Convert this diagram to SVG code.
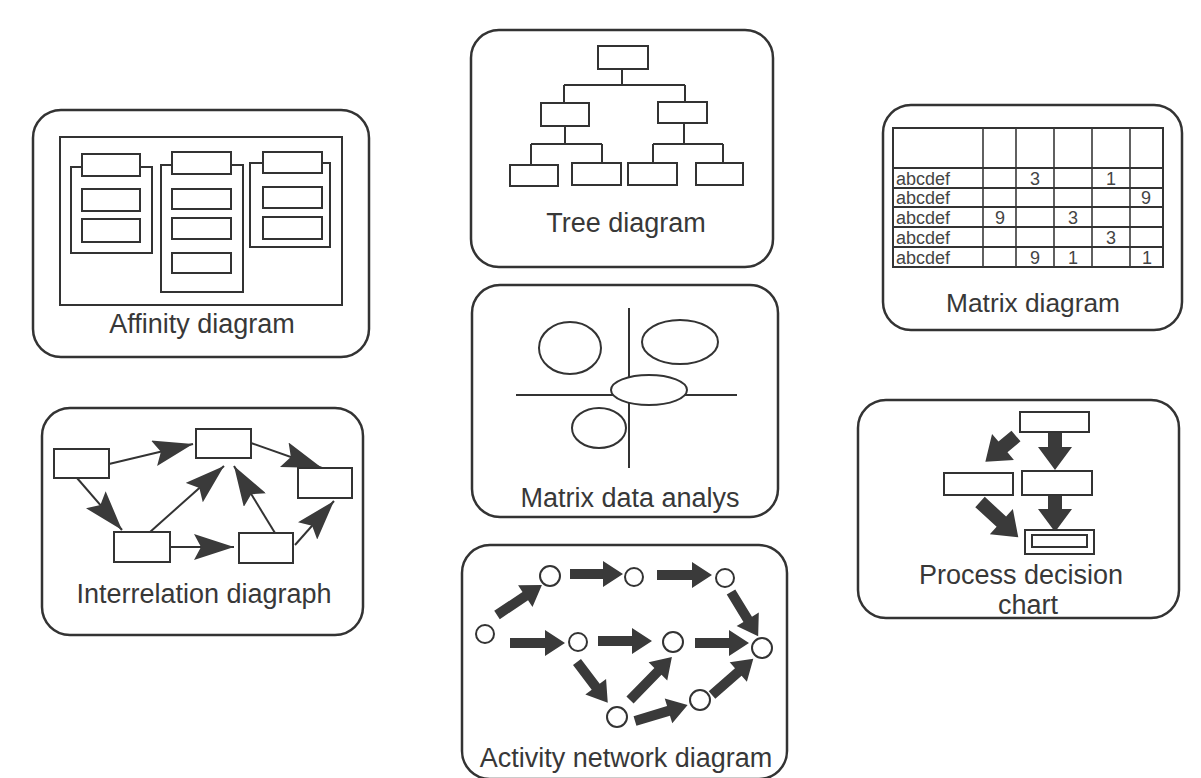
<svg xmlns="http://www.w3.org/2000/svg" width="1201" height="778" viewBox="0 0 1201 778">
  <style>
    .panel { fill: none; stroke: #333; stroke-width: 2.5; }
    .box { fill: #fff; stroke: #333; stroke-width: 2; }
    .ln { fill: none; stroke: #333; stroke-width: 2; }
    .thin { fill: none; stroke: #3a3a3a; stroke-width: 1.6; }
    .blk { fill: #3a3a3a; stroke: none; }
    .node { fill: #fff; stroke: #333; stroke-width: 2; }
    .lbl { font-family: "Liberation Sans", Arial, sans-serif; font-size: 27px; fill: #383838; text-anchor: middle; }
    .cell { font-family: "Liberation Sans", Arial, sans-serif; font-size: 18px; fill: #444; }
    .num { font-family: "Liberation Sans", Arial, sans-serif; font-size: 18px; fill: #444; text-anchor: middle; }
  </style>
  <defs>
    <marker id="head" viewBox="0 0 40 26" refX="40" refY="13" markerWidth="40" markerHeight="26" markerUnits="userSpaceOnUse" orient="auto">
      <path d="M0,0 L40,13 L0,26 L7,13 Z" fill="#3a3a3a"/>
    </marker>
  </defs>
  <rect width="1201" height="778" fill="#fff"/>

  <!-- Affinity diagram -->
  <g id="affinity">
    <rect class="panel" x="33" y="110" width="336" height="247" rx="28"/>
    <rect class="ln" x="60" y="137" width="282" height="168"/>
    <rect class="ln" x="71" y="167" width="81" height="86"/>
    <rect class="box" x="82" y="154" width="58" height="22"/>
    <rect class="box" x="82" y="189" width="58" height="22"/>
    <rect class="box" x="82" y="219" width="58" height="23"/>
    <rect class="ln" x="161" y="165" width="82" height="127"/>
    <rect class="box" x="172" y="152" width="59" height="22"/>
    <rect class="box" x="172" y="189" width="59" height="20"/>
    <rect class="box" x="172" y="218" width="59" height="21"/>
    <rect class="box" x="172" y="253" width="59" height="20"/>
    <rect class="ln" x="250" y="163" width="80" height="84"/>
    <rect class="box" x="263" y="152" width="59" height="21"/>
    <rect class="box" x="263" y="187" width="59" height="21"/>
    <rect class="box" x="263" y="217" width="59" height="22"/>
    <text class="lbl" x="202" y="333">Affinity diagram</text>
  </g>

  <!-- Interrelation diagraph -->
  <g id="interrelation">
    <rect class="panel" x="42" y="408" width="321" height="227" rx="28"/>
    <g id="ir-connectors">
      <line class="ln" x1="109" y1="464" x2="193" y2="444" marker-end="url(#head)"/>
      <line class="ln" x1="77" y1="478" x2="122" y2="530" marker-end="url(#head)"/>
      <line class="ln" x1="150" y1="532" x2="224" y2="466" marker-end="url(#head)"/>
      <line class="ln" x1="170" y1="547" x2="234" y2="547" marker-end="url(#head)"/>
      <line class="ln" x1="275" y1="533" x2="234" y2="466" marker-end="url(#head)"/>
      <line class="ln" x1="295" y1="545" x2="334" y2="501" marker-end="url(#head)"/>
      <line class="ln" x1="251" y1="443" x2="322" y2="468" marker-end="url(#head)"/>
    </g>
    <rect class="box" x="54" y="449" width="55" height="29"/>
    <rect class="box" x="196" y="429" width="55" height="29"/>
    <rect class="box" x="298" y="468" width="54" height="30"/>
    <rect class="box" x="114" y="532" width="56" height="30"/>
    <rect class="box" x="239" y="533" width="54" height="30"/>
    <text class="lbl" x="204" y="603">Interrelation diagraph</text>
  </g>

  <!-- Tree diagram -->
  <g id="tree">
    <rect class="panel" x="471" y="30" width="302" height="237" rx="28"/>
    <path class="ln" d="M622,69 V85 M564,85 H685 M564,85 V103 M685,85 V102"/>
    <path class="ln" d="M565,126 V144 M531,144 H602 M531,144 V165 M602,144 V163"/>
    <path class="ln" d="M684,123 V144 M653,144 H723 M653,144 V163 M723,144 V163"/>
    <rect class="box" x="598" y="46" width="50" height="23"/>
    <rect class="box" x="541" y="103" width="48" height="23"/>
    <rect class="box" x="658" y="102" width="49" height="21"/>
    <rect class="box" x="510" y="165" width="48" height="21"/>
    <rect class="box" x="572" y="163" width="49" height="22"/>
    <rect class="box" x="628" y="163" width="49" height="22"/>
    <rect class="box" x="696" y="163" width="47" height="22"/>
    <text class="lbl" x="626" y="232">Tree diagram</text>
  </g>

  <!-- Matrix data analysis -->
  <g id="matrix-data">
    <rect class="panel" x="472" y="285" width="306" height="232" rx="28"/>
    <line class="ln" x1="629" y1="308" x2="629" y2="468"/>
    <line class="ln" x1="516" y1="395" x2="737" y2="395"/>
    <ellipse class="ln" cx="570" cy="348" rx="31" ry="26"/>
    <ellipse class="ln" cx="680" cy="342" rx="38" ry="22"/>
    <ellipse class="node" cx="649" cy="390" rx="38" ry="15"/>
    <ellipse class="ln" cx="599" cy="428" rx="27" ry="20"/>
    <text class="lbl" x="630" y="507">Matrix data analys</text>
  </g>

  <!-- Activity network diagram -->
  <g id="activity">
    <rect class="panel" x="462" y="545" width="325" height="234" rx="28"/>
    <g id="an-connectors">
      <path class="blk" d="M0,-5 H34 V-13 L54,0 L34,13 V5 H0 Z" transform="translate(497,615) rotate(-33.7)"/>
      <path class="blk" d="M0,-5 H33 V-13 L53,0 L33,13 V5 H0 Z" transform="translate(570,574)"/>
      <path class="blk" d="M0,-5 H35 V-13 L55,0 L35,13 V5 H0 Z" transform="translate(657,575)"/>
      <path class="blk" d="M0,-5 H32 V-13 L52,0 L32,13 V5 H0 Z" transform="translate(731,592) rotate(58.5)"/>
      <path class="blk" d="M0,-5 H35 V-13 L55,0 L35,13 V5 H0 Z" transform="translate(510,643)"/>
      <path class="blk" d="M0,-5 H34 V-13 L54,0 L34,13 V5 H0 Z" transform="translate(598,641)"/>
      <path class="blk" d="M0,-5 H34 V-13 L54,0 L34,13 V5 H0 Z" transform="translate(695,643)"/>
      <path class="blk" d="M0,-5 H31 V-13 L51,0 L31,13 V5 H0 Z" transform="translate(577,662) rotate(52.9)"/>
      <path class="blk" d="M0,-5 H40 V-13 L60,0 L40,13 V5 H0 Z" transform="translate(630,700) rotate(-45.7)"/>
      <path class="blk" d="M0,-5 H35 V-13 L55,0 L35,13 V5 H0 Z" transform="translate(635,721) rotate(-16.8)"/>
      <path class="blk" d="M0,-5 H35 V-13 L55,0 L35,13 V5 H0 Z" transform="translate(712,695) rotate(-41.3)"/>
    </g>
    <circle class="node" cx="485" cy="634" r="9"/>
    <circle class="node" cx="550" cy="576" r="10"/>
    <circle class="node" cx="634" cy="577" r="9"/>
    <circle class="node" cx="725" cy="578" r="9"/>
    <circle class="node" cx="578" cy="642" r="9"/>
    <circle class="node" cx="673" cy="642" r="10"/>
    <circle class="node" cx="762" cy="648" r="10"/>
    <circle class="node" cx="617" cy="717" r="10"/>
    <circle class="node" cx="700" cy="700" r="10"/>
    <text class="lbl" x="626" y="767">Activity network diagram</text>
  </g>

  <!-- Matrix diagram -->
  <g id="matrix">
    <rect class="panel" x="883" y="105" width="299" height="225" rx="28"/>
    <rect class="ln" x="893" y="128" width="270" height="139"/>
    <path class="thin" d="M983,128 V267 M1016,128 V267 M1054,128 V267 M1092,128 V267 M1130,128 V267"/>
    <path class="ln" d="M893,168 H1163 M893,188 H1163 M893,207 H1163 M893,227 H1163 M893,247 H1163"/>
    <text class="cell" x="896" y="185">abcdef</text>
    <text class="cell" x="896" y="204">abcdef</text>
    <text class="cell" x="896" y="224">abcdef</text>
    <text class="cell" x="896" y="244">abcdef</text>
    <text class="cell" x="896" y="264">abcdef</text>
    <text class="num" x="1035" y="185">3</text>
    <text class="num" x="1111" y="185">1</text>
    <text class="num" x="1146" y="204">9</text>
    <text class="num" x="1000" y="224">9</text>
    <text class="num" x="1073" y="224">3</text>
    <text class="num" x="1111" y="244">3</text>
    <text class="num" x="1035" y="264">9</text>
    <text class="num" x="1073" y="264">1</text>
    <text class="num" x="1147" y="264">1</text>
    <text class="lbl" x="1033" y="312" style="font-size:26.3px">Matrix diagram</text>
  </g>

  <!-- Process decision chart -->
  <g id="process-decision">
    <rect class="panel" x="858" y="400" width="321" height="218" rx="28"/>
    <g id="pdc-connectors">
      <path class="blk" d="M0,-7 H15 V-17 L38,0 L15,17 V7 H0 Z" transform="translate(1055,432) rotate(90)"/>
      <path class="blk" d="M0,-7 H14 V-17 L37,0 L14,17 V7 H0 Z" transform="translate(1055,495) rotate(90)"/>
      <path class="blk" d="M0,-7 H17 V-17 L40,0 L17,17 V7 H0 Z" transform="translate(1016,436) rotate(140)"/>
      <path class="blk" d="M0,-7 H29 V-17 L52,0 L29,17 V7 H0 Z" transform="translate(980,502) rotate(42.6)"/>
    </g>
    <rect class="box" x="1020" y="412" width="69" height="20"/>
    <rect class="box" x="944" y="473" width="69" height="22"/>
    <rect class="box" x="1022" y="471" width="70" height="24"/>
    <rect class="box" x="1025" y="530" width="69" height="24"/>
    <rect class="ln" x="1032" y="535" width="55" height="12"/>
    <text class="lbl" x="1021" y="584" style="font-size:27px">Process decision</text>
    <text class="lbl" x="1028" y="614" style="font-size:27px">chart</text>
  </g>
</svg>
